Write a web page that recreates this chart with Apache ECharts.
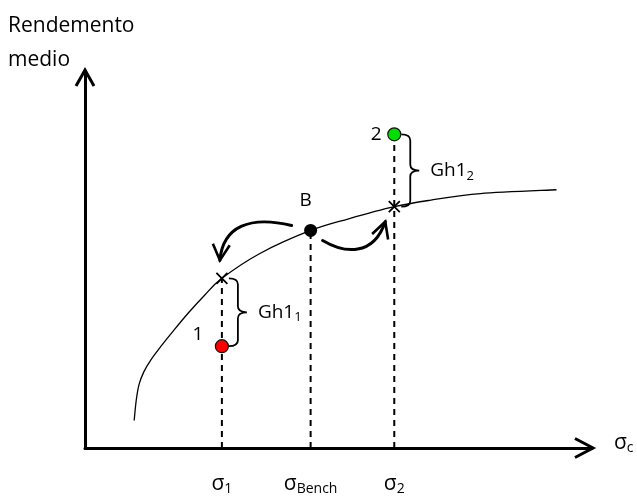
<!DOCTYPE html>
<html>
<head>
<meta charset="utf-8">
<script src="https://cdn.jsdelivr.net/npm/echarts@6/dist/echarts.min.js"></script>
<style>
  html, body { margin: 0; padding: 0; background: #fff; }
  #chart { width: 637px; height: 496px; }
</style>
</head>
<body>
<div id="chart"></div>
<script>
// Mean return vs risk (σ) diagram with benchmark B and two portfolios
const FONT = '"Open Sans", "DejaVu Sans", sans-serif';

const yAxisTitle = 'Rendemento\nmedio';
const xAxisTitle = ['σ', 'c'];

// Portfolios: 1, benchmark B, 2
const portfolioNames = ['1', 'B', '2'];
const sigmaValues = [27, 44.5, 61];
const sigmaNames = [['σ', '1'], ['σ', 'Bench'], ['σ', '2']];
const portfolioReturns = [27, 57.7, 83.2];
const frontierReturns = [45, 57.7, 64];   // frontier height at each σ
const portfolioColors = ['#ff0000', '#000000', '#00e000'];

// Efficient frontier
const frontierSigma = [9.7, 10.1, 10.65, 11.6, 13.0, 15.0, 17.5, 20.5, 23.5, 27, 34.5, 44.5, 52, 61, 68, 78, 93];
const frontierMean = [7.3, 12.6, 16.8, 20.2, 23.4, 27.0, 31.2, 36.0, 40.4, 45, 51.6, 57.7, 60.8, 64, 65.7, 67.5, 68.5];

// Gaps between each portfolio and the frontier
const gapNames = [['Gh1', '1'], ['Gh1', '2']];
const gapPortfolios = [0, 2];

// Moves of the benchmark along the frontier
const benchmarkIndex = 1;
const moveTargets = [0, 2];

// ---- presentation ----
const labelOffsets = [[-24, -12], [-5, -30], [-18, 0]];
const arrowShapes = {
  // start / end offsets and control-point offsets, in pixels
  left:  { s: [-19, -5], e: [-2, -18], c1: [-42, -10], c2: [3, -34] },
  right: { s: [12, 10],  e: [-9, 15],  c1: [22, 13],   c2: [-12, 35] }
};

const richSigma = {
  s:   { fontFamily: FONT, fontSize: 21, lineHeight: 24, color: '#000' },
  sub: { fontFamily: FONT, fontSize: 14, lineHeight: 14, verticalAlign: 'bottom', color: '#000' }
};
const richGap = {
  m:   { fontFamily: FONT, fontSize: 19, lineHeight: 24, color: '#000' },
  sub: { fontFamily: FONT, fontSize: 13, lineHeight: 13, verticalAlign: 'bottom', color: '#000' }
};

const chart = echarts.init(document.getElementById('chart'), null, { renderer: 'canvas' });

// vertical dashed guides: from the axis up to the highest of point / frontier
const guideSeries = sigmaValues.map((x, i) => ({
  type: 'line',
  silent: true,
  symbol: 'none',
  z: 2,
  lineStyle: { color: '#000', width: 2, type: [6, 5] },
  data: [[x, 0], [x, Math.max(portfolioReturns[i], frontierReturns[i])]]
}));

// smooth frontier: Catmull-Rom spline through the points, in pixel space
function renderFrontier(params, api) {
  const pts = frontierSigma.map((x, i) => api.coord([x, frontierMean[i]]));
  let d = `M${pts[0][0]},${pts[0][1]}`;
  for (let i = 0; i < pts.length - 1; i++) {
    const p0 = pts[Math.max(i - 1, 0)], p1 = pts[i], p2 = pts[i + 1], p3 = pts[Math.min(i + 2, pts.length - 1)];
    const c1 = [p1[0] + (p2[0] - p0[0]) / 6, p1[1] + (p2[1] - p0[1]) / 6];
    const c2 = [p2[0] - (p3[0] - p1[0]) / 6, p2[1] - (p3[1] - p1[1]) / 6];
    d += `C${c1[0]},${c1[1]} ${c2[0]},${c2[1]} ${p2[0]},${p2[1]}`;
  }
  return {
    type: 'path',
    shape: { pathData: d },
    style: { fill: 'none', stroke: '#000', lineWidth: 1.3 }
  };
}

function renderBrace(params, api) {
  const i = params.dataIndex;
  const x = api.value(0);
  const pA = api.coord([x, api.value(1)]);
  const pB = api.coord([x, api.value(2)]);
  const top = Math.min(pA[1], pB[1]);
  const bot = Math.max(pA[1], pB[1]);
  const xb = pA[0] + 7, xv = pA[0] + 16, xt = pA[0] + 25, ym = (top + bot) / 2, r = 6;
  const d = `M${xb},${top}Q${xv},${top} ${xv},${top + r}L${xv},${ym - r}Q${xv},${ym} ${xt},${ym}` +
            `Q${xv},${ym} ${xv},${ym + r}L${xv},${bot - r}Q${xv},${bot} ${xb},${bot}`;
  return {
    type: 'group',
    children: [
      { type: 'path', shape: { pathData: d }, style: { fill: 'none', stroke: '#000', lineWidth: 1.8 } },
      {
        type: 'text', x: xt + 11, y: ym,
        style: {
          text: `{m|${gapNames[i][0]}}{sub|${gapNames[i][1]}}`,
          rich: richGap, align: 'left', verticalAlign: 'middle'
        }
      }
    ]
  };
}

function renderMove(params, api) {
  const from = api.coord([api.value(0), api.value(1)]);
  const to = api.coord([api.value(2), api.value(3)]);
  const sh = to[0] < from[0] ? arrowShapes.left : arrowShapes.right;
  const p0 = [from[0] + sh.s[0], from[1] + sh.s[1]];
  const p3 = [to[0] + sh.e[0], to[1] + sh.e[1]];
  const c1 = [p0[0] + sh.c1[0], p0[1] + sh.c1[1]];
  const c2 = [p3[0] + sh.c2[0], p3[1] + sh.c2[1]];
  let dx = p3[0] - c2[0], dy = p3[1] - c2[1];
  const len = Math.hypot(dx, dy);
  dx /= len; dy /= len;
  const a = 28 * Math.PI / 180, L = 18;
  const arm = (ang) => {
    const bx = -dx, by = -dy;
    return [p3[0] + L * (bx * Math.cos(ang) - by * Math.sin(ang)),
            p3[1] + L * (bx * Math.sin(ang) + by * Math.cos(ang))];
  };
  return {
    type: 'group',
    children: [
      {
        type: 'bezierCurve',
        shape: { x1: p0[0], y1: p0[1], cpx1: c1[0], cpy1: c1[1], cpx2: c2[0], cpy2: c2[1], x2: p3[0], y2: p3[1] },
        style: { fill: 'none', stroke: '#000', lineWidth: 3, lineCap: 'round' }
      },
      {
        type: 'polyline',
        shape: { points: [arm(a), p3, arm(-a)] },
        style: { fill: 'none', stroke: '#000', lineWidth: 2.6, lineJoin: 'miter' }
      }
    ]
  };
}

function renderAxisHead(params, api) {
  const p = api.coord([api.value(0), api.value(1)]);
  const horizontal = api.value(2) === 1;
  const pts = horizontal
    ? [[p[0] - 17, p[1] - 9.5], [p[0] + 1, p[1]], [p[0] - 17, p[1] + 9.5]]
    : [[p[0] - 9, p[1] + 15], [p[0], p[1] - 1], [p[0] + 9, p[1] + 15]];
  return {
    type: 'polyline',
    shape: { points: pts },
    style: { fill: 'none', stroke: '#000', lineWidth: 3, lineJoin: 'miter' }
  };
}

const option = {
  animation: false,
  backgroundColor: '#fff',
  title: {
    text: yAxisTitle,
    left: 8, top: 9, padding: 0,
    textStyle: { fontFamily: FONT, fontSize: 21, lineHeight: 34, fontWeight: 'normal', color: '#000' }
  },
  grid: { left: 85, right: 45, top: 71, bottom: 44 },
  xAxis: {
    type: 'value', min: 0, max: 100,
    name: `{s|${xAxisTitle[0]}}{sub|${xAxisTitle[1]}}`,
    nameLocation: 'end', nameGap: 22,
    nameTextStyle: { rich: richSigma, padding: [0, 0, 10, 0] },
    axisLine: { show: true, onZero: true, lineStyle: { color: '#000', width: 3 } },
    axisTick: { show: false },
    splitLine: { show: false },
    axisLabel: {
      show: true,
      customValues: sigmaValues,
      margin: 24,
      formatter: (v) => {
        const n = sigmaNames[sigmaValues.indexOf(v)];
        return n ? `{s|${n[0]}}{sub|${n[1]}}` : '';
      },
      rich: richSigma
    }
  },
  yAxis: {
    type: 'value', min: 0, max: 100,
    axisLine: { show: true, lineStyle: { color: '#000', width: 3 } },
    axisTick: { show: false },
    axisLabel: { show: false },
    splitLine: { show: false }
  },
  series: [
    ...guideSeries,
    {
      name: 'frontier',
      type: 'custom',
      silent: true,
      z: 3,
      renderItem: renderFrontier,
      data: [[frontierSigma[0], frontierMean[0]]]
    },
    {
      name: 'frontier crossings',
      type: 'scatter',
      silent: true,
      z: 4,
      symbol: 'path://M0,0L10,10M10,0L0,10',
      symbolSize: 11,
      itemStyle: { color: 'none', borderColor: '#000', borderWidth: 1.8, opacity: 1 },
      data: gapPortfolios.map(i => [sigmaValues[i], frontierReturns[i]])
    },
    {
      name: 'gaps',
      type: 'custom',
      silent: true,
      z: 5,
      renderItem: renderBrace,
      data: gapPortfolios.map(i => [sigmaValues[i], portfolioReturns[i], frontierReturns[i]])
    },
    {
      name: 'moves',
      type: 'custom',
      silent: true,
      z: 5,
      renderItem: renderMove,
      data: moveTargets.map(t => [sigmaValues[benchmarkIndex], portfolioReturns[benchmarkIndex],
                                  sigmaValues[t], frontierReturns[t]])
    },
    {
      name: 'axis heads',
      type: 'custom',
      silent: true,
      z: 6,
      renderItem: renderAxisHead,
      data: [[100, 0, 1], [0, 100, 0]]
    },
    {
      name: 'portfolios',
      type: 'scatter',
      silent: true,
      z: 7,
      symbolSize: 13,
      data: portfolioNames.map((n, i) => ({
        name: n,
        value: [sigmaValues[i], portfolioReturns[i]],
        itemStyle: { color: portfolioColors[i], borderColor: '#111', borderWidth: i === 1 ? 0 : 1.2, opacity: 1 },
        label: { offset: labelOffsets[i] }
      })),
      label: {
        show: true,
        position: 'inside',
        formatter: '{b}',
        fontFamily: FONT, fontSize: 19, color: '#000',
        textBorderWidth: 0,
        align: 'center', verticalAlign: 'middle'
      }
    }
  ]
};

chart.setOption(option);
</script>
</body>
</html>
